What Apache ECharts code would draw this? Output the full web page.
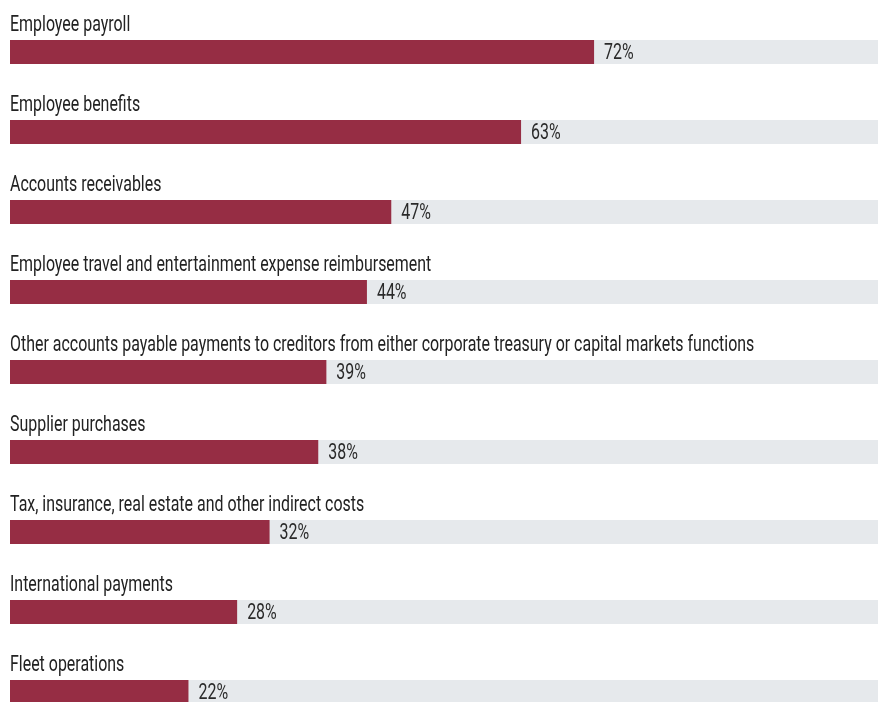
<!DOCTYPE html>
<html>
<head>
<meta charset="utf-8">
<script src="https://cdn.jsdelivr.net/npm/echarts@6/dist/echarts.min.js"></script>
<style>
html,body{margin:0;padding:0;background:#fff;}
#main{width:878px;height:702px;}
</style>
</head>
<body>
<div id="main"></div>
<script>
const categories = [
  "Employee payroll",
  "Employee benefits",
  "Accounts receivables",
  "Employee travel and entertainment expense reimbursement",
  "Other accounts payable payments to creditors from either corporate treasury or capital markets functions",
  "Supplier purchases",
  "Tax, insurance, real estate and other indirect costs",
  "International payments",
  "Fleet operations"
];
const values = [72, 63, 47, 44, 39, 38, 32, 28, 22];

const FONT = 'Roboto, "Noto Sans", sans-serif';
const SX = 0.725;
const BAR_W = 24;
const chart = echarts.init(document.getElementById('main'), null, {renderer: 'canvas'});
chart.setOption({
  animation: false,
  grid: {left: 10, right: 0, top: 12, height: 720, containLabel: false, outerBoundsMode: 'none'},
  xAxis: {type: 'value', min: 0, max: 107, show: false},
  yAxis: {type: 'category', data: categories, inverse: true, show: false},
  series: [
    {
      type: 'bar',
      data: values,
      barWidth: BAR_W,
      itemStyle: {color: '#962d44'},
      showBackground: true,
      backgroundStyle: {color: '#e6e9ec'},
      silent: true
    },
    {
      type: 'custom',
      silent: true,
      data: values.map((v, i) => [v, i]),
      encode: {x: 0, y: 1},
      renderItem: function (params, api) {
        const i = api.value(1);
        const v = api.value(0);
        const start = api.coord([0, i]);
        const end = api.coord([v, i]);
        const top = start[1] - BAR_W / 2;
        return {
          type: 'group',
          children: [
            {
              type: 'text',
              x: start[0],
              y: top - 4,
              scaleX: SX,
              style: {
                text: categories[i],
                fill: '#222',
                font: '22px ' + FONT,
                align: 'left',
                verticalAlign: 'bottom'
              }
            },
            {
              type: 'text',
              x: end[0] + 10,
              y: end[1] + 1,
              scaleX: SX,
              style: {
                text: v + '%',
                fill: '#2a2a2a',
                font: '22px ' + FONT,
                align: 'left',
                verticalAlign: 'middle'
              }
            }
          ]
        };
      }
    }
  ]
});
</script>
</body>
</html>
